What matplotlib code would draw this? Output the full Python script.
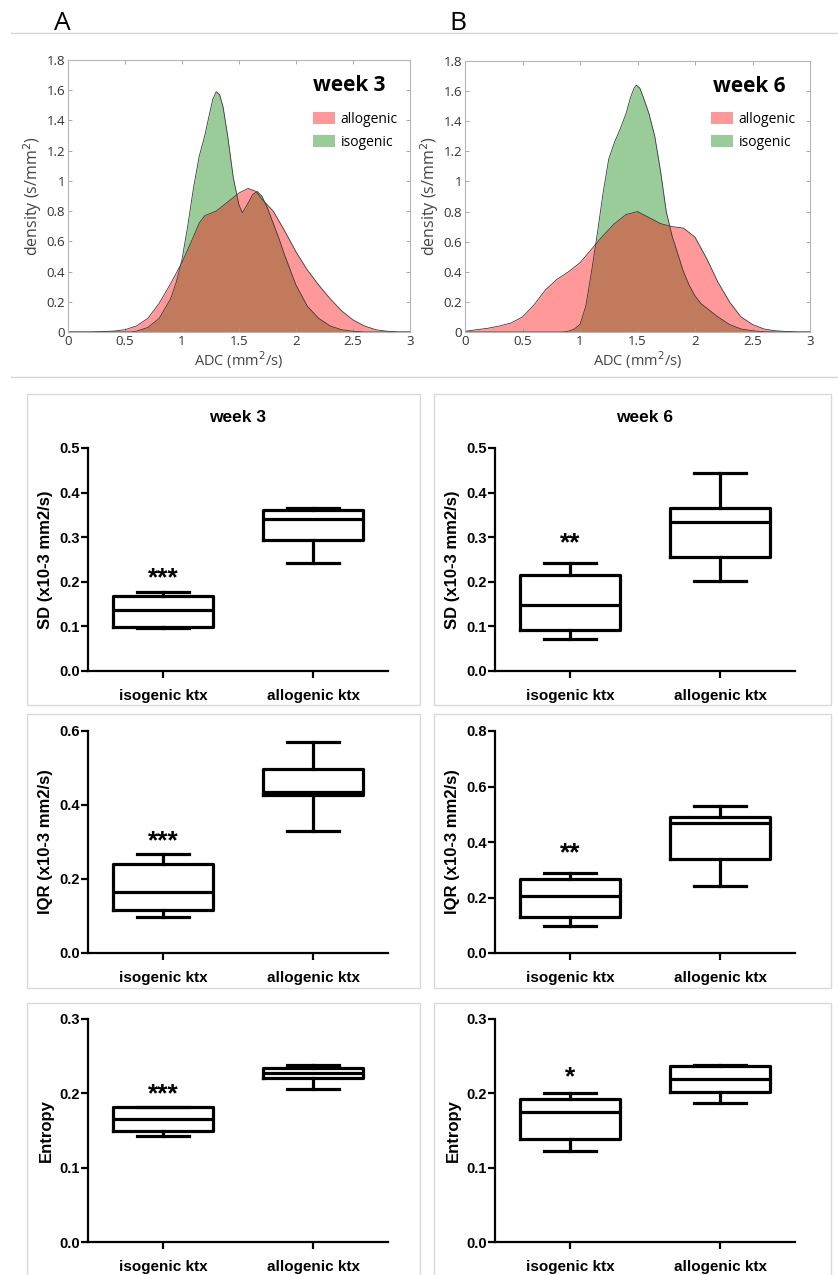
import matplotlib

matplotlib.use("Agg")
import matplotlib.pyplot as plt
from matplotlib.lines import Line2D
from matplotlib.patches import Patch, Rectangle

W, H = 838, 1275

# ---- density curves ----
w3_iso_x = [0, 0.55, 0.6, 0.7, 0.8, 0.9, 0.95, 1.0, 1.05, 1.1, 1.15, 1.2, 1.24, 1.27, 1.3, 1.33,
            1.36, 1.4, 1.45, 1.5, 1.53, 1.57, 1.62, 1.66, 1.7, 1.75, 1.8, 1.85, 1.9, 1.95, 2.0,
            2.1, 2.2, 2.3, 2.4, 2.5, 2.6, 3.0]
w3_iso_y = [0, 0, 0.005, 0.03, 0.09, 0.22, 0.33, 0.48, 0.7, 0.95, 1.16, 1.3, 1.44, 1.54, 1.59, 1.57,
            1.49, 1.3, 1.02, 0.84, 0.79, 0.84, 0.91, 0.93, 0.9, 0.82, 0.72, 0.62, 0.51, 0.41, 0.31,
            0.17, 0.09, 0.04, 0.015, 0.005, 0, 0]
w3_allo_x = [0, 0.2, 0.3, 0.4, 0.5, 0.6, 0.7, 0.8, 0.9, 1.0, 1.1, 1.15, 1.2, 1.3, 1.4, 1.5, 1.58,
             1.65, 1.7, 1.8, 1.9, 2.0, 2.1, 2.2, 2.3, 2.4, 2.5, 2.6, 2.7, 2.8, 2.9, 3.0]
w3_allo_y = [0, 0, 0.003, 0.006, 0.015, 0.04, 0.09, 0.19, 0.32, 0.46, 0.63, 0.72, 0.77, 0.8, 0.86,
             0.92, 0.95, 0.93, 0.88, 0.8, 0.67, 0.53, 0.41, 0.31, 0.22, 0.14, 0.08, 0.04, 0.015,
             0.005, 0, 0]

w6_iso_x = [0, 0.85, 0.9, 0.95, 1.0, 1.05, 1.1, 1.15, 1.2, 1.25, 1.3, 1.35, 1.4, 1.44, 1.47, 1.49,
            1.52, 1.55, 1.6, 1.65, 1.7, 1.75, 1.8, 1.85, 1.9, 1.95, 2.0, 2.05, 2.1, 2.15, 2.2, 2.3,
            2.4, 2.5, 2.6, 2.7, 3.0]
w6_iso_y = [0, 0, 0.005, 0.02, 0.05, 0.17, 0.4, 0.65, 0.92, 1.15, 1.26, 1.35, 1.45, 1.56, 1.62, 1.64,
            1.62, 1.56, 1.45, 1.3, 1.07, 0.8, 0.64, 0.52, 0.4, 0.31, 0.24, 0.19, 0.16, 0.13, 0.1,
            0.05, 0.02, 0.008, 0.002, 0, 0]
w6_allo_x = [0, 0.1, 0.2, 0.3, 0.4, 0.5, 0.6, 0.7, 0.8, 0.9, 1.0, 1.1, 1.2, 1.3, 1.4, 1.5, 1.6, 1.7,
             1.8, 1.9, 2.0, 2.05, 2.1, 2.2, 2.3, 2.4, 2.5, 2.6, 2.7, 2.8, 2.9, 3.0]
w6_allo_y = [0.005, 0.015, 0.025, 0.04, 0.06, 0.1, 0.18, 0.28, 0.35, 0.4, 0.46, 0.55, 0.64, 0.72,
             0.78, 0.8, 0.76, 0.72, 0.7, 0.69, 0.63, 0.56, 0.49, 0.33, 0.2, 0.1, 0.05, 0.02, 0.008,
             0.003, 0, 0]

# ---- box plot stats: whislo, q1, med, q3, whishi ----
groups = ["isogenic ktx", "allogenic ktx"]
sd_w3 = [[0.096, 0.099, 0.137, 0.168, 0.177], [0.242, 0.293, 0.340, 0.360, 0.366]]
sd_w6 = [[0.072, 0.093, 0.148, 0.215, 0.243], [0.201, 0.256, 0.334, 0.365, 0.443]]
iqr_w3 = [[0.097, 0.115, 0.166, 0.240, 0.267], [0.330, 0.427, 0.435, 0.497, 0.569]]
iqr_w6 = [[0.098, 0.128, 0.206, 0.266, 0.287], [0.240, 0.339, 0.468, 0.489, 0.530]]
ent_w3 = [[0.142, 0.149, 0.165, 0.181, 0.182], [0.206, 0.221, 0.228, 0.234, 0.238]]
ent_w6 = [[0.123, 0.139, 0.1755, 0.193, 0.2006], [0.1876, 0.2024, 0.2194, 0.2365, 0.2387]]
stars = {"sd_w3": ("***", 0.22), "sd_w6": ("**", 0.297), "iqr_w3": ("***", 0.315),
         "iqr_w6": ("**", 0.378), "ent_w3": ("***", 0.206), "ent_w6": ("*", 0.228)}


def px_axes(fig, left, right, top, bottom):
    return fig.add_axes([left / W, 1 - bottom / H, (right - left) / W, (bottom - top) / H])


fig = plt.figure(figsize=(W / 100, H / 100), dpi=100)

# separator lines and frames
for y in (33, 377):
    fig.add_artist(Line2D([11 / W, 1], [1 - y / H] * 2, color="#d6d6d6", lw=1))
for (l, r) in ((27, 420), (434, 831)):
    for (t, b) in ((394, 705), (714, 988), (1003, 1290)):
        fig.add_artist(Rectangle((l / W, 1 - b / H), (r - l) / W, (b - t) / H, fill=False,
                                 edgecolor="#d9d9d9", lw=1, transform=fig.transFigure))

fig.text(62 / W, 1 - 23 / H, "A", fontsize=19, family="Open Sans", ha="center", va="center")
fig.text(458 / W, 1 - 23 / H, "B", fontsize=19, family="Open Sans", ha="center", va="center")

dens = [
    ((68, 410, 60, 332), 313, "week 3", w3_iso_x, w3_iso_y, w3_allo_x, w3_allo_y),
    ((465, 810, 61, 332), 711, "week 6", w6_iso_x, w6_iso_y, w6_allo_x, w6_allo_y),
]
for (l, r, t, b), leg_x, title, ix, iy, axx, ay in dens:
    ax = px_axes(fig, l, r, t, b)
    ax.fill_between(ix, iy, color=(0, 0.5, 0), alpha=0.4, lw=0)
    ax.plot(ix, iy, color="#3a3a3a", lw=0.6)
    ax.fill_between(axx, ay, color=(1, 0, 0), alpha=0.4, lw=0)
    ax.plot(axx, ay, color="#3a3a3a", lw=0.6)
    ax.set_xlim(0, 3)
    ax.set_ylim(0, 1.8)
    ax.set_xticks([0, 0.5, 1, 1.5, 2, 2.5, 3])
    ax.set_xticklabels(["0", "0.5", "1", "1.5", "2", "2.5", "3"])
    ax.set_yticks([0, 0.2, 0.4, 0.6, 0.8, 1, 1.2, 1.4, 1.6, 1.8])
    ax.set_yticklabels(["0", "0.2", "0.4", "0.6", "0.8", "1", "1.2", "1.4", "1.6", "1.8"])
    ax.tick_params(direction="in", top=True, right=True, length=3, width=0.6, color="#999999",
                   labelsize=9.5, labelcolor="#333333", pad=2)
    for lab in ax.get_xticklabels() + ax.get_yticklabels():
        lab.set_family("Open Sans")
    for s in ax.spines.values():
        s.set_color("#b5b5b5")
        s.set_linewidth(0.8)
    ax.set_xlabel("ADC (mm$^2$/s)", fontsize=10.5, family="Open Sans", color="#444444", labelpad=1)
    ax.set_ylabel("density (s/mm$^2$)", fontsize=11.5, family="Open Sans", color="#444444",
                  labelpad=2)
    ax.text(2.47, 1.63, title, fontsize=15, fontweight="bold", family="Open Sans",
            ha="center", va="center")
    handles = [Patch(facecolor=(1, 0, 0), alpha=0.4, edgecolor="none", label="allogenic"),
               Patch(facecolor=(0, 0.5, 0), alpha=0.4, edgecolor="none", label="isogenic")]
    ax.legend(handles=handles, loc="upper left",
              bbox_to_anchor=((leg_x - l) / (r - l), (b - 112) / (b - t)),
              frameon=False, borderpad=0, borderaxespad=0, handlelength=1.6, handleheight=0.95,
              handletextpad=0.4, labelspacing=0.55,
              prop={"family": "Open Sans", "size": 10})

boxes = [
    ("sd_w3", sd_w3, (88, 388, 448, 671), 0.5, [0, 0.1, 0.2, 0.3, 0.4, 0.5], "SD (x10-3 mm2/s)", "week 3"),
    ("sd_w6", sd_w6, (495, 795, 448, 671), 0.5, [0, 0.1, 0.2, 0.3, 0.4, 0.5], "SD (x10-3 mm2/s)", "week 6"),
    ("iqr_w3", iqr_w3, (88, 388, 731, 953), 0.6, [0, 0.2, 0.4, 0.6], "IQR (x10-3 mm2/s)", None),
    ("iqr_w6", iqr_w6, (495, 795, 731, 953), 0.8, [0, 0.2, 0.4, 0.6, 0.8], "IQR (x10-3 mm2/s)", None),
    ("ent_w3", ent_w3, (88, 388, 1019, 1242), 0.3, [0, 0.1, 0.2, 0.3], "Entropy", None),
    ("ent_w6", ent_w6, (495, 795, 1019, 1242), 0.3, [0, 0.1, 0.2, 0.3], "Entropy", None),
]
lw = 2.3
for key, data, (l, r, t, b), ymax, yt, ylab, title in boxes:
    ax = px_axes(fig, l, r, t, b)
    stats = [dict(whislo=d[0], q1=d[1], med=d[2], q3=d[3], whishi=d[4], label=g)
             for d, g in zip(data, groups)]
    ax.bxp(stats, positions=[1, 2], widths=0.667, capwidths=0.35, showfliers=False,
           boxprops=dict(color="black", lw=lw), whiskerprops=dict(color="black", lw=lw),
           capprops=dict(color="black", lw=lw), medianprops=dict(color="black", lw=lw))
    ax.set_xlim(0.5, 2.5)
    ax.set_ylim(0, ymax)
    ax.set_yticks(yt)
    ax.set_yticklabels([f"{v:.1f}" for v in yt])
    ax.set_xticks([1, 2])
    ax.set_xticklabels(groups)
    for s in ("top", "right"):
        ax.spines[s].set_visible(False)
    for s in ("left", "bottom"):
        ax.spines[s].set_linewidth(1.6)
    ax.tick_params(axis="y", direction="out", length=5, width=1.6, labelsize=10.5, pad=1)
    ax.tick_params(axis="x", direction="out", length=5, width=1.6, labelsize=11, pad=8)
    for lab in ax.get_xticklabels() + ax.get_yticklabels():
        lab.set_family("Liberation Sans")
        lab.set_fontweight("bold")
    ax.set_ylabel(ylab, fontsize=12, fontweight="bold", family="Liberation Sans", labelpad=4)
    s, y = stars[key]
    ax.annotate(s, (1, y), xytext=(0, -5), textcoords="offset pixels", fontsize=19,
                fontweight="bold", family="Liberation Sans", ha="center", va="center")
    if title:
        ax.set_title(title, fontsize=12.5, fontweight="bold", family="Liberation Sans", pad=19)

fig.savefig("out.png", dpi=100)
